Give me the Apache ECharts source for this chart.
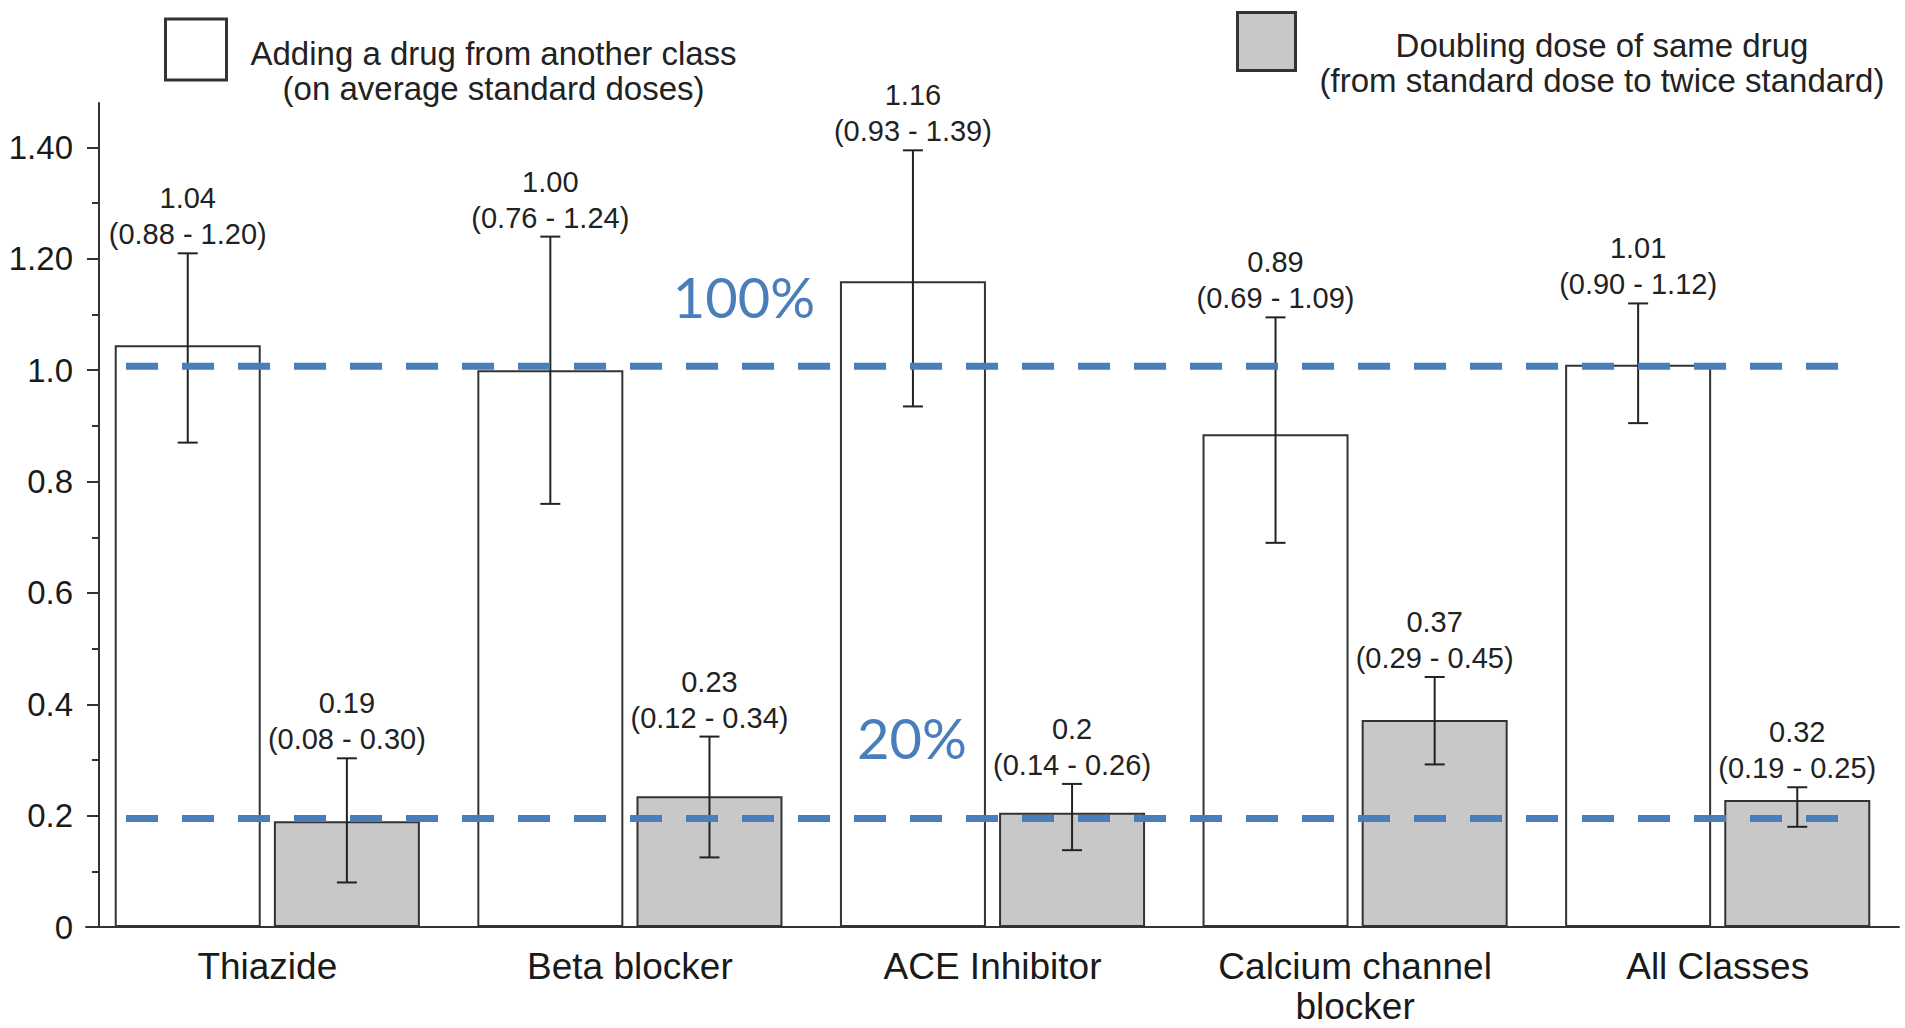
<!DOCTYPE html>
<html>
<head>
<meta charset="utf-8">
<style>
  html, body { margin: 0; padding: 0; background: #ffffff; }
  #chart { width: 1905px; height: 1028px; }
</style>
<script src="https://cdn.jsdelivr.net/npm/echarts@6/dist/echarts.min.js"></script>
</head>
<body>
<div id="chart"></div>
<script>
// ---------------- data ----------------
const categories = ['Thiazide', 'Beta blocker', 'ACE Inhibitor', 'Calcium channel\nblocker', 'All Classes'];

const addName = 'Adding a drug from another class\n(on average standard doses)';
const addValues = [1.045, 1.00, 1.16, 0.885, 1.01];
const addLow    = [0.87, 0.76, 0.935, 0.69, 0.905];
const addHigh   = [1.21, 1.24, 1.395, 1.095, 1.12];
const addLabels = ['1.04\n(0.88 - 1.20)', '1.00\n(0.76 - 1.24)', '1.16\n(0.93 - 1.39)', '0.89\n(0.69 - 1.09)', '1.01\n(0.90 - 1.12)'];

const dblName = 'Doubling dose of same drug\n(from standard dose to twice standard)';
const dblValues = [0.19, 0.235, 0.205, 0.372, 0.228];
const dblLow    = [0.08, 0.125, 0.138, 0.292, 0.18];
const dblHigh   = [0.303, 0.342, 0.257, 0.449, 0.251];
const dblLabels = ['0.19\n(0.08 - 0.30)', '0.23\n(0.12 - 0.34)', '0.2\n(0.14 - 0.26)', '0.37\n(0.29 - 0.45)', '0.32\n(0.19 - 0.25)'];

const refValues = [1.007, 0.195];
const refLabels = ['100%', '20%'];

const yMajorTicks = [0, 0.2, 0.4, 0.6, 0.8, 1.0, 1.2, 1.4];
const yTickLabels = ['0', '0.2', '0.4', '0.6', '0.8', '1.0', '1.20', '1.40'];
const yMinorTicks = [0, 0.1, 0.2, 0.3, 0.4, 0.5, 0.6, 0.7, 0.8, 0.9, 1.0, 1.1, 1.2, 1.3, 1.4];
const yMax = 1.48;

// ---------------- styles ----------------
const FONT = '"Liberation Sans", Arial, Helvetica, sans-serif';
const BAR_W = 146;
const GAP_PCT = 9;
const HALF_OFFSET = (BAR_W + BAR_W * GAP_PCT / 100) / 2;
const INK = '#333333';
const BLUE = '#4a7ebb';
const GRID_LEFT = 86;
const Y_AXIS_SHIFT = -13;
const refLabelPos = [{ x: 744, dy: -70 }, { x: 912, dy: -81 }];

function errorSeries(low, high, labels, sign) {
  return {
    type: 'custom',
    z: 5,
    silent: true,
    encode: { x: 0, y: [1, 2] },
    data: low.map((l, i) => [i, l, high[i]]),
    renderItem: function (params, api) {
      const i = api.value(0);
      const pLo = api.coord([i, api.value(1)]);
      const pHi = api.coord([i, api.value(2)]);
      const x = pLo[0] + sign * HALF_OFFSET;
      const cap = 10;
      const ls = { stroke: '#222', lineWidth: 2 };
      return {
        type: 'group',
        children: [
          { type: 'line', shape: { x1: x, y1: pLo[1], x2: x, y2: pHi[1] }, style: ls },
          { type: 'line', shape: { x1: x - cap, y1: pLo[1], x2: x + cap, y2: pLo[1] }, style: ls },
          { type: 'line', shape: { x1: x - cap, y1: pHi[1], x2: x + cap, y2: pHi[1] }, style: ls },
          { type: 'text', style: {
              text: labels[params.dataIndex], x: x, y: pHi[1] - 1,
              align: 'center', verticalAlign: 'bottom',
              fontFamily: FONT, fontSize: 29, lineHeight: 36, fill: '#222'
          } }
        ]
      };
    }
  };
}

function legendFor(name, left, top, size) {
  return {
    data: [name],
    left: left, top: top, padding: 0, orient: 'horizontal',
    icon: 'rect', itemWidth: size, itemHeight: size,
    selectedMode: false,
    itemStyle: { borderColor: INK, borderWidth: 3 },
    formatter: n => n.split('\n').map(l => '{c|' + l + '}').join('\n'),
    textStyle: {
      padding: [42, 0, 0, 19],
      rich: { c: { align: 'center', fontSize: 33, lineHeight: 35, fontFamily: FONT, color: '#222' } }
    }
  };
}

const chart = echarts.init(document.getElementById('chart'), null, { renderer: 'svg' });
chart.setOption({
  animation: false,
  backgroundColor: '#ffffff',
  legend: [
    legendFor(addName, 164, 17.5, 61),
    legendFor(dblName, 1236, 11, 58)
  ],
  grid: { left: GRID_LEFT, right: 6, top: 103, bottom: 101, containLabel: false, outerBoundsMode: 'none' },
  xAxis: {
    type: 'category',
    data: categories,
    axisLine: { lineStyle: { color: INK, width: 2 } },
    axisTick: { show: false },
    axisLabel: { color: '#1a1a1a', fontFamily: FONT, fontSize: 37, lineHeight: 40, margin: 19, interval: 0 },
    splitLine: { show: false }
  },
  yAxis: [
    {
      type: 'value', min: 0, max: yMax, position: 'left', offset: Y_AXIS_SHIFT,
      axisLine: { show: true, lineStyle: { color: INK, width: 2 } },
      axisTick: { show: true, customValues: yMinorTicks, length: 7, lineStyle: { color: INK, width: 2 } },
      axisLabel: {
        customValues: yMajorTicks, margin: 26, color: '#1a1a1a', fontFamily: FONT, fontSize: 33,
        formatter: v => { const k = yMajorTicks.findIndex(t => Math.abs(t - v) < 1e-6); return k >= 0 ? yTickLabels[k] : ''; }
      },
      splitLine: { show: false }
    },
    {
      type: 'value', min: 0, max: yMax, position: 'left', offset: Y_AXIS_SHIFT,
      axisLine: { show: false },
      axisTick: { show: true, customValues: yMajorTicks, length: 12, lineStyle: { color: INK, width: 2 } },
      axisLabel: { show: false },
      splitLine: { show: false }
    }
  ],
  series: [
    {
      name: addName, type: 'bar', data: addValues, barWidth: BAR_W, barGap: GAP_PCT + '%',
      itemStyle: { color: '#ffffff', borderColor: INK, borderWidth: 2 }, silent: true
    },
    {
      name: dblName, type: 'bar', data: dblValues, barWidth: BAR_W, barGap: GAP_PCT + '%',
      itemStyle: { color: '#c8c8c8', borderColor: INK, borderWidth: 2 }, silent: true
    },
    errorSeries(addLow, addHigh, addLabels, -1),
    errorSeries(dblLow, dblHigh, dblLabels, 1),
    {
      type: 'custom', z: 10, silent: true,
      encode: { x: 0, y: 1 },
      data: refValues.map(v => [0, v]),
      renderItem: function (params, api) {
        const y = api.coord([0, api.value(1)])[1];
        const cs = params.coordSys;
        const pos = refLabelPos[params.dataIndex];
        return {
          type: 'group',
          children: [
            { type: 'line', shape: { x1: cs.x + 40, y1: y, x2: cs.x + cs.width - 42, y2: y },
              style: { stroke: BLUE, lineWidth: 7, lineDash: [32, 24] } },
            { type: 'text', style: {
                text: refLabels[params.dataIndex], x: pos.x, y: y + pos.dy,
                align: 'center', verticalAlign: 'middle',
                fontFamily: 'Lato, "Open Sans", sans-serif', fontSize: 56, fill: BLUE
            } }
          ]
        };
      }
    }
  ]
});
</script>
</body>
</html>
